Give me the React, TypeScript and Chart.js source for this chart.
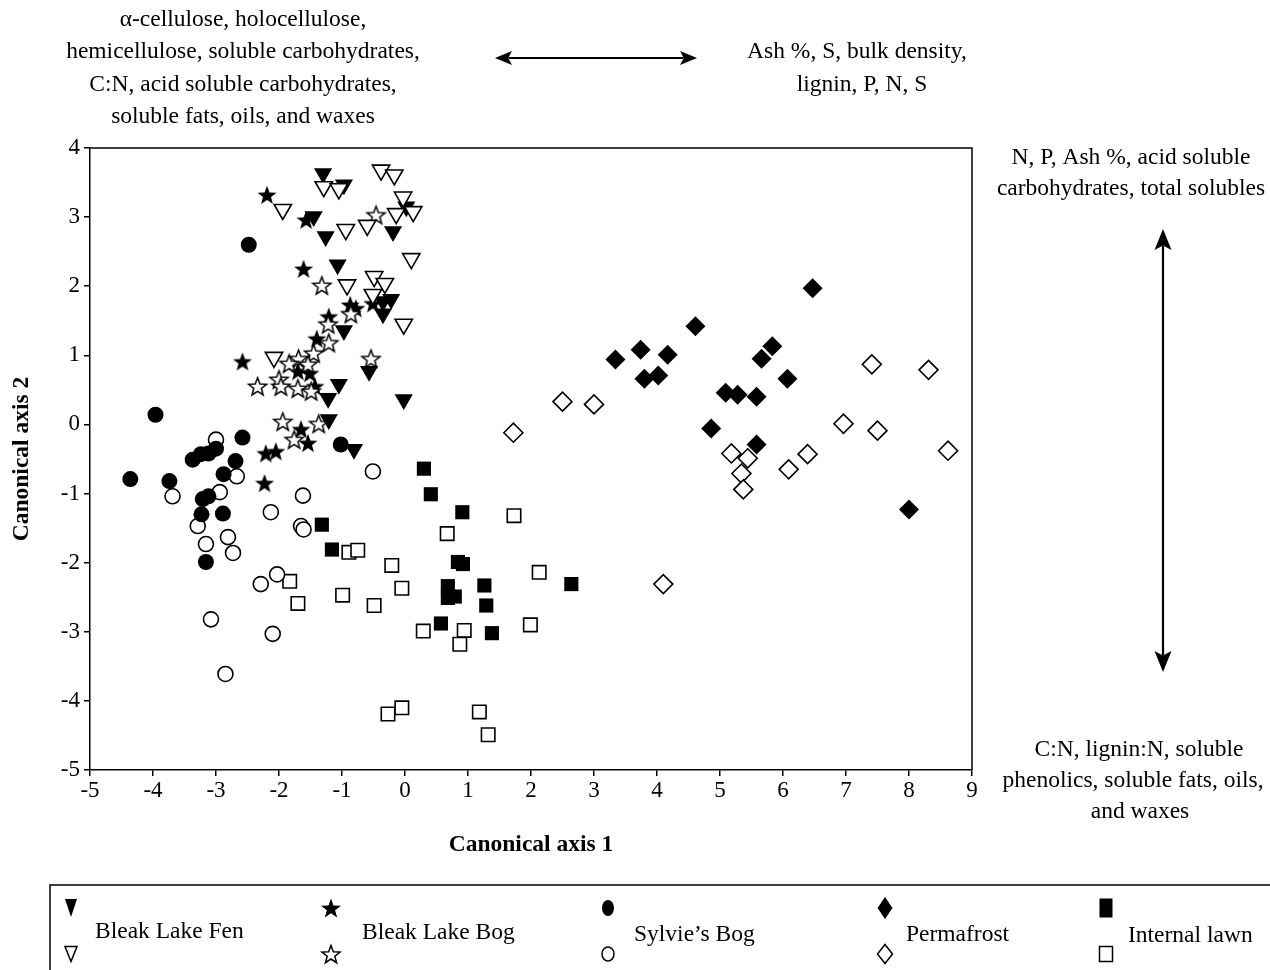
import React, { useEffect, useRef } from 'react';
import { Chart, registerables } from 'chart.js';

Chart.register(...registerables);

// ---- Data (canonical axis 1, canonical axis 2) ----
const fenFilled: [number, number][] = [
  [-1.3, 3.63], [-0.97, 3.47], [-1.45, 3.01], [-1.26, 2.72], [-0.19, 2.79], [0.02, 3.15],
  [-1.07, 2.31], [-0.35, 1.78], [-0.22, 1.81], [-0.35, 1.6], [-0.97, 1.36], [-0.57, 0.77],
  [-1.05, 0.58], [-1.22, 0.38], [-0.02, 0.36], [-1.21, 0.07], [-0.81, -0.36],
];
const fenOpen: [number, number][] = [
  [-0.38, 3.68], [-0.17, 3.61], [-1.29, 3.44], [-1.05, 3.41], [-0.03, 3.29], [-1.94, 3.11],
  [-0.14, 3.05], [0.13, 3.08], [-0.6, 2.88], [-0.94, 2.82], [0.1, 2.4], [-0.49, 2.14],
  [-0.32, 2.04], [-0.92, 2.02], [-0.51, 1.88], [-0.02, 1.45], [-2.08, 0.97],
];
const bogFilled: [number, number][] = [
  [-2.19, 3.32], [-1.57, 2.96], [-1.61, 2.25], [-0.87, 1.73], [-0.78, 1.68], [-0.51, 1.75],
  [-1.21, 1.56], [-1.4, 1.24], [-2.58, 0.91], [-1.7, 0.77], [-1.51, 0.74], [-1.43, 0.55],
  [-1.65, -0.07], [-1.54, -0.27], [-2.21, -0.42], [-2.05, -0.39], [-2.23, -0.85],
];
const bogOpen: [number, number][] = [
  [-0.46, 3.03], [-1.32, 2.01], [-0.86, 1.6], [-1.22, 1.45], [-1.21, 1.18], [-1.45, 1.03],
  [-1.69, 0.95], [-1.84, 0.88], [-1.54, 0.87], [-0.54, 0.95], [-2.34, 0.55], [-2.0, 0.65],
  [-1.97, 0.55], [-1.7, 0.52], [-1.49, 0.48], [-1.94, 0.04], [-1.37, 0.01], [-1.76, -0.22],
];
const sylvieFilled: [number, number][] = [
  [-2.48, 2.6], [-3.96, 0.14], [-4.36, -0.79], [-3.74, -0.82], [-3.37, -0.51], [-3.24, -0.43],
  [-3.12, -0.42], [-3.0, -0.35], [-2.58, -0.19], [-2.69, -0.53], [-2.88, -0.72], [-3.12, -1.04],
  [-3.21, -1.08], [-3.23, -1.3], [-2.89, -1.29], [-3.16, -1.99], [-1.02, -0.29],
];
const sylvieOpen: [number, number][] = [
  [-3.0, -0.22], [-3.69, -1.04], [-2.94, -0.98], [-2.67, -0.75], [-3.29, -1.47], [-3.16, -1.73],
  [-2.81, -1.63], [-2.73, -1.86], [-2.13, -1.27], [-1.62, -1.03], [-1.65, -1.47], [-1.61, -1.52],
  [-0.51, -0.68], [-2.03, -2.17], [-2.29, -2.31], [-3.08, -2.82], [-2.1, -3.03], [-2.85, -3.61],
];
const permaFilled: [number, number][] = [
  [6.47, 1.97], [4.61, 1.42], [3.74, 1.08], [4.17, 1.01], [3.34, 0.94], [5.83, 1.13],
  [5.66, 0.95], [3.8, 0.66], [4.02, 0.71], [6.07, 0.66], [5.09, 0.46], [5.28, 0.43],
  [5.58, 0.4], [4.86, -0.06], [5.58, -0.29], [8.0, -1.23],
];
const permaOpen: [number, number][] = [
  [1.72, -0.12], [2.5, 0.33], [3.0, 0.29], [7.41, 0.87], [8.31, 0.79], [6.96, 0.01],
  [7.5, -0.09], [8.62, -0.38], [6.39, -0.43], [6.09, -0.65], [5.18, -0.42], [5.44, -0.49],
  [5.34, -0.71], [5.37, -0.94], [4.1, -2.31],
];
const lawnFilled: [number, number][] = [
  [0.3, -0.64], [0.41, -1.01], [0.91, -1.27], [-1.32, -1.45], [-1.16, -1.81], [0.84, -1.99],
  [0.92, -2.02], [0.68, -2.34], [0.79, -2.49], [0.68, -2.51], [1.26, -2.33], [1.29, -2.62],
  [2.64, -2.31], [0.57, -2.88], [1.38, -3.02],
];
const lawnOpen: [number, number][] = [
  [-1.83, -2.27], [-1.7, -2.59], [-0.99, -2.47], [-0.89, -1.85], [-0.75, -1.82], [-0.49, -2.62],
  [-0.21, -2.04], [-0.05, -2.37], [0.29, -2.99], [0.67, -1.58], [0.94, -2.98], [0.87, -3.18],
  [1.73, -1.32], [2.13, -2.14], [1.99, -2.9], [-0.27, -4.19], [-0.05, -4.1], [1.18, -4.16],
  [1.32, -4.49],
];

const legendLabels = ['Bleak Lake Fen', 'Bleak Lake Bog', 'Sylvie\u2019s Bog', 'Permafrost', 'Internal lawn'];
const xTitle = 'Canonical axis 1';
const yTitle = 'Canonical axis 2';
const topLeftText = [
  '\u03b1-cellulose, holocellulose,',
  'hemicellulose, soluble carbohydrates,',
  'C:N, acid soluble carbohydrates,',
  'soluble fats, oils, and waxes',
];
const topRightText = ['Ash %, S, bulk density,', 'lignin, P, N, S'];
const rightTopText = ['N, P, Ash %, acid soluble', 'carbohydrates, total solubles'];
const rightBottomText = ['C:N, lignin:N, soluble', 'phenolics, soluble fats, oils,', 'and waxes'];

const FONT = '"Liberation Serif", "Times New Roman", serif';

function starPath(ctx: CanvasRenderingContext2D, cx: number, cy: number, ro: number, ri: number) {
  ctx.beginPath();
  for (let i = 0; i < 10; i++) {
    const r = i % 2 === 0 ? ro : ri;
    const a = -Math.PI / 2 + (i * Math.PI) / 5;
    const px = cx + r * Math.cos(a);
    const py = cy + r * Math.sin(a);
    if (i === 0) ctx.moveTo(px, py);
    else ctx.lineTo(px, py);
  }
  ctx.closePath();
}

function makeStarImage(filled: boolean, ro: number): HTMLCanvasElement {
  const c = document.createElement('canvas');
  const s = Math.ceil(ro * 2 + 4);
  c.width = s;
  c.height = s;
  const ctx = c.getContext('2d')!;
  starPath(ctx, s / 2, s / 2 + 0.8, ro, ro * 0.42);
  ctx.lineJoin = 'miter';
  if (filled) {
    ctx.fillStyle = '#000';
    ctx.fill();
  } else {
    ctx.fillStyle = '#fff';
    ctx.fill();
    ctx.lineWidth = 1.5;
    ctx.strokeStyle = '#000';
    ctx.stroke();
  }
  return c;
}

function drawLegendMarker(ctx: CanvasRenderingContext2D, kind: string, filled: boolean, x: number, y: number) {
  ctx.save();
  ctx.fillStyle = filled ? '#000' : '#fff';
  ctx.strokeStyle = '#000';
  ctx.lineWidth = 1.5;
  ctx.beginPath();
  if (kind === 'tri') {
    const w = 6;
    const h = filled ? 9 : 7.5;
    ctx.moveTo(x - w, y - h);
    ctx.lineTo(x + w, y - h);
    ctx.lineTo(x, y + h);
    ctx.closePath();
  } else if (kind === 'star') {
    starPath(ctx, x, y + 1, filled ? 10.5 : 9.5, filled ? 4.3 : 4);
  } else if (kind === 'circle') {
    ctx.ellipse(x, y, 6, filled ? 8 : 7, 0, 0, Math.PI * 2);
  } else if (kind === 'diamond') {
    const w = 7.5;
    const h = filled ? 11 : 9.5;
    ctx.moveTo(x, y - h);
    ctx.lineTo(x + w, y);
    ctx.lineTo(x, y + h);
    ctx.lineTo(x - w, y);
    ctx.closePath();
  } else if (kind === 'square') {
    const w = 6.5;
    const h = filled ? 9.5 : 7.5;
    ctx.rect(x - w, y - h, 2 * w, 2 * h);
  }
  ctx.fill();
  if (!filled) ctx.stroke();
  ctx.restore();
}

function drawDoubleArrow(
  ctx: CanvasRenderingContext2D, x1: number, y1: number, x2: number, y2: number,
  headLen: number, headHalf: number, lw: number,
) {
  const ang = Math.atan2(y2 - y1, x2 - x1);
  const ux = Math.cos(ang), uy = Math.sin(ang);
  const nx = -uy, ny = ux;
  ctx.save();
  ctx.strokeStyle = '#000';
  ctx.fillStyle = '#000';
  ctx.lineWidth = lw;
  ctx.beginPath();
  ctx.moveTo(x1 + ux * headLen * 0.8, y1 + uy * headLen * 0.8);
  ctx.lineTo(x2 - ux * headLen * 0.8, y2 - uy * headLen * 0.8);
  ctx.stroke();
  const head = (tx: number, ty: number, dir: number) => {
    ctx.beginPath();
    ctx.moveTo(tx, ty);
    ctx.lineTo(tx - dir * ux * headLen + nx * headHalf, ty - dir * uy * headLen + ny * headHalf);
    ctx.lineTo(tx - dir * ux * headLen * 0.78, ty - dir * uy * headLen * 0.78);
    ctx.lineTo(tx - dir * ux * headLen - nx * headHalf, ty - dir * uy * headLen - ny * headHalf);
    ctx.closePath();
    ctx.fill();
  };
  head(x2, y2, 1);
  head(x1, y1, -1);
  ctx.restore();
}

const decorPlugin = {
  id: 'decor',
  afterDraw(chart: any) {
    const ctx: CanvasRenderingContext2D = chart.ctx;
    const { left, right, top, bottom } = chart.chartArea;
    ctx.save();
    // frame top/right
    ctx.strokeStyle = '#000';
    ctx.lineWidth = 1.5;
    ctx.beginPath();
    ctx.moveTo(left, top);
    ctx.lineTo(right, top);
    ctx.lineTo(right, bottom);
    ctx.stroke();

    ctx.fillStyle = '#000';
    ctx.textBaseline = 'middle';
    ctx.textAlign = 'center';
    // axis titles
    ctx.font = `bold 23.5px ${FONT}`;
    ctx.fillText(xTitle, (left + right) / 2, 845);
    ctx.save();
    ctx.translate(22, (top + bottom) / 2);
    ctx.rotate(-Math.PI / 2);
    ctx.fillText(yTitle, 0, 0);
    ctx.restore();

    // annotations
    ctx.font = `23.5px ${FONT}`;
    const tl = [20, 52, 85, 117];
    topLeftText.forEach((t, i) => ctx.fillText(t, 243, tl[i]));
    ctx.fillText(topRightText[0], 857, 52);
    ctx.fillText(topRightText[1], 862, 85);
    ctx.fillText(rightTopText[0], 1131, 158);
    ctx.fillText(rightTopText[1], 1131, 189);
    ctx.fillText(rightBottomText[0], 1139, 750);
    ctx.fillText(rightBottomText[1], 1133, 781);
    ctx.fillText(rightBottomText[2], 1140, 812);

    drawDoubleArrow(ctx, 495, 58, 697, 58, 17, 7, 2);
    drawDoubleArrow(ctx, 1163, 229, 1163, 672, 21, 8.5, 2.2);

    // legend box
    ctx.lineWidth = 1.5;
    ctx.beginPath();
    ctx.moveTo(50, 970);
    ctx.lineTo(50, 885);
    ctx.lineTo(1270, 885);
    ctx.stroke();

    const kinds = ['tri', 'star', 'circle', 'diamond', 'square'];
    const markerX = [71, 331, 608, 885, 1106];
    const textX = [95, 362, 634, 906, 1128];
    const textY = [932, 933, 935, 935, 936];
    ctx.textAlign = 'left';
    ctx.font = `23.5px ${FONT}`;
    kinds.forEach((k, i) => {
      drawLegendMarker(ctx, k, true, markerX[i], 908);
      drawLegendMarker(ctx, k, false, markerX[i], 954);
      ctx.fillText(legendLabels[i], textX[i], textY[i]);
    });
    ctx.restore();
  },
};

const toXY = (arr: [number, number][]) => arr.map(([x, y]) => ({ x, y }));

export default function App() {
  const ref = useRef<HTMLCanvasElement>(null);
  useEffect(() => {
    const canvas = ref.current!;
    const starFilled = makeStarImage(true, 10);
    const starOpen = makeStarImage(false, 9.5);
    const filled = { backgroundColor: '#000', borderColor: '#000', borderWidth: 0 };
    const open = { backgroundColor: '#fff', borderColor: '#000', borderWidth: 1.6 };
    const chart = new Chart(canvas, {
      type: 'scatter',
      data: {
        datasets: [
          { label: 'Bleak Lake Fen', data: toXY(fenOpen), pointStyle: 'triangle', rotation: 180, pointRadius: 10, ...open },
          { label: 'Bleak Lake Fen', data: toXY(fenFilled), pointStyle: 'triangle', rotation: 180, pointRadius: 10.5, ...filled },
          { label: 'Bleak Lake Bog', data: toXY(bogOpen), pointStyle: starOpen, pointRadius: 10, ...open },
          { label: 'Bleak Lake Bog', data: toXY(bogFilled), pointStyle: starFilled, pointRadius: 10, ...filled },
          { label: 'Sylvie\u2019s Bog', data: toXY(sylvieFilled), pointStyle: 'circle', pointRadius: 8, ...filled },
          { label: 'Sylvie\u2019s Bog', data: toXY(sylvieOpen), pointStyle: 'circle', pointRadius: 7.5, ...open },
          { label: 'Permafrost', data: toXY(permaOpen), pointStyle: 'rectRot', pointRadius: 9.5, ...open },
          { label: 'Permafrost', data: toXY(permaFilled), pointStyle: 'rectRot', pointRadius: 10, ...filled },
          { label: 'Internal lawn', data: toXY(lawnOpen), pointStyle: 'rect', pointRadius: 9.5, ...open },
          { label: 'Internal lawn', data: toXY(lawnFilled), pointStyle: 'rect', pointRadius: 10, ...filled },
        ] as any,
      },
      options: {
        animation: false,
        responsive: false,
        events: [],
        layout: { padding: { left: 0, top: 148, right: 298, bottom: 160 } },
        plugins: { legend: { display: false }, tooltip: { enabled: false } },
        elements: { point: { hoverRadius: 10 } },
        scales: {
          x: {
            type: 'linear',
            min: -5,
            max: 9,
            ticks: { stepSize: 1, color: '#000', font: { family: FONT, size: 23 }, padding: 1, maxRotation: 0 },
            grid: { drawOnChartArea: false, drawTicks: true, tickLength: 6, color: '#000', lineWidth: 1.5 },
            border: { display: true, color: '#000', width: 1.5 },
            afterFit: (s: any) => { s.height = 40; },
          },
          y: {
            type: 'linear',
            min: -5,
            max: 4,
            ticks: { stepSize: 1, color: '#000', font: { family: FONT, size: 23 }, padding: 4 },
            grid: { drawOnChartArea: false, drawTicks: true, tickLength: 6, color: '#000', lineWidth: 1.5 },
            border: { display: true, color: '#000', width: 1.5 },
            afterFit: (s: any) => { s.width = 90; },
          },
        },
      } as any,
      plugins: [decorPlugin],
    });
    return () => chart.destroy();
  }, []);
  return (
    <div style={{ position: 'fixed', left: 0, top: 0, width: 1270, height: 970, background: '#fff' }}>
      <canvas ref={ref} width={1270} height={970} style={{ display: 'block', width: 1270, height: 970 }} />
    </div>
  );
}
